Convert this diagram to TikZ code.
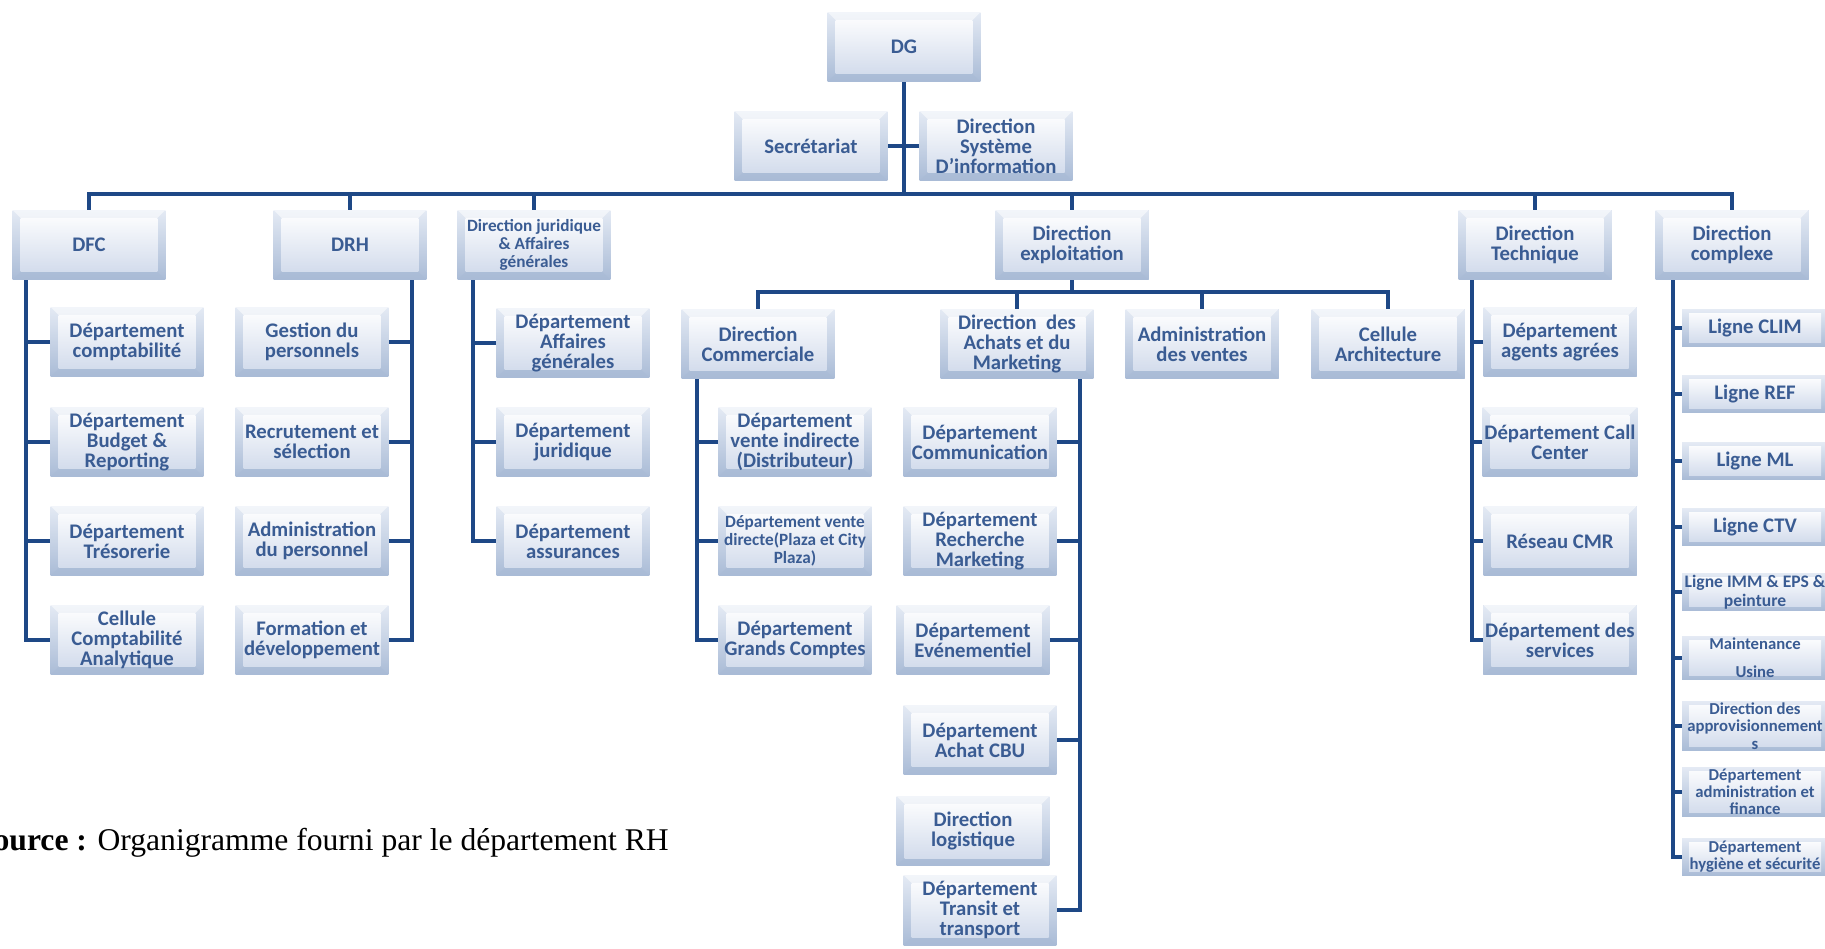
\documentclass[tikz,border=0pt]{standalone}
\usepackage{fontspec}
\setmainfont{Carlito}
\newfontfamily\srcfont{Liberation Serif}
\definecolor{ink}{HTML}{3A5C93}
\definecolor{wire}{HTML}{1E4886}
\definecolor{rimtop}{HTML}{E4EAF4}
\definecolor{rimbot}{HTML}{A9BBD6}
\definecolor{facetop}{HTML}{FAFBFD}
\definecolor{facebot}{HTML}{D3DCEC}
\tikzset{
  box/.style={
    rectangle, fill=facebot, inner sep=1pt, align=center, text=ink,
    minimum width=3.06cm, minimum height=1.4cm,
    font=\bfseries\fontsize{11.8}{11.4}\selectfont,
    path picture={
      \coordinate (pa) at (path picture bounding box.south west);
      \coordinate (pb) at (path picture bounding box.north east);
      \shade[top color=rimtop, bottom color=rimbot] (pa) rectangle (pb);
      \fill[white, opacity=0.55] (pa |- pb) -- (pb) -- ([shift={(-0.16cm,-0.16cm)}]pb) -- ([shift={(0.16cm,-0.16cm)}]pa |- pb) -- cycle;
      \fill[rimbot, opacity=0.6] (pa) -- (pa -| pb) -- ([shift={(-0.16cm,0.16cm)}]pa -| pb) -- ([shift={(0.16cm,0.16cm)}]pa) -- cycle;
      \shade[top color=facetop, bottom color=facebot] ([shift={(0.16cm,0.16cm)}]pa) rectangle ([shift={(-0.16cm,-0.16cm)}]pb);
    }
  },
  lbox/.style={box, minimum width=2.92cm, minimum height=0.74cm,
    path picture={
      \coordinate (pa) at (path picture bounding box.south west);
      \coordinate (pb) at (path picture bounding box.north east);
      \shade[top color=rimtop, bottom color=rimbot] (pa) rectangle (pb);
      \shade[top color=facetop, bottom color=facebot] ([shift={(0.14cm,0.08cm)}]pa) rectangle ([shift={(-0.14cm,-0.08cm)}]pb);
    }},
  wire/.style={draw=wire, line width=0.08cm},
  small/.style={font=\bfseries\fontsize{9.8}{10.2}\selectfont},
  tiny/.style={font=\bfseries\fontsize{9.5}{9.8}\selectfont}
}
\begin{document}
\begin{tikzpicture}[x=0.02cm, y=-0.02cm]
\useasboundingbox (0,0) rectangle (1825,949);
\clip (0,0) rectangle (1825,949);

% top of the chart
\node[box] (dg) at (904,47) {DG};
\node[box] (sec) at (811,146) {Secrétariat};
\node[box] (dsi) at (996,146) {Direction\\Système\\D’information};

% directions
\node[box] (dfc) at (89,245) {DFC};
\node[box] (drh) at (350,245) {DRH};
\node[box, small] (dj) at (534,245) {Direction juridique\\\& Affaires\\générales};
\node[box] (dex) at (1072,245) {Direction\\exploitation};
\node[box] (dt) at (1535,245) {Direction\\Technique};
\node[box] (dcx) at (1732,245) {Direction\\complexe};

% DFC
\node[box] (dfc1) at (127,342) {Département\\comptabilité};
\node[box] (dfc2) at (127,442) {Département\\Budget \&\\Reporting};
\node[box] (dfc3) at (127,541) {Département\\Trésorerie};
\node[box] (dfc4) at (127,640) {Cellule\\Comptabilité\\Analytique};

% DRH
\node[box] (drh1) at (312,342) {Gestion du\\personnels};
\node[box] (drh2) at (312,442) {Recrutement et\\sélection};
\node[box] (drh3) at (312,541) {Administration\\du personnel};
\node[box] (drh4) at (312,640) {Formation et\\développement};

% juridique
\node[box] (dj1) at (573,343) {Département\\Affaires\\générales};
\node[box] (dj2) at (573,442) {Département\\juridique};
\node[box] (dj3) at (573,541) {Département\\assurances};

% exploitation
\node[box] (dcom) at (758,344) {Direction\\Commerciale};
\node[box] (dach) at (1017,344) {Direction~~des\\Achats et du\\Marketing};
\node[box] (adv) at (1202,344) {Administration\\des ventes};
\node[box] (arch) at (1388,344) {Cellule\\Architecture};

% commerciale
\node[box] (dcom1) at (795,442) {Département\\vente indirecte\\(Distributeur)};
\node[box, small] (dcom2) at (795,541) {Département vente\\directe(Plaza et City\\Plaza)};
\node[box] (dcom3) at (795,640) {Département\\Grands Comptes};

% achats et marketing
\node[box] (dach1) at (980,442) {Département\\Communication};
\node[box] (dach2) at (980,541) {Département\\Recherche\\Marketing};
\node[box] (dach3) at (973,640) {Département\\Evénementiel};
\node[box] (dach4) at (980,740) {Département\\Achat CBU};
\node[box] (dach5) at (973,831) {Direction\\logistique};
\node[box] (dach6) at (980,910) {Département\\Transit et\\transport};

% technique
\node[box] (dt1) at (1560,342) {Département\\agents agrées};
\node[box] (dt2) at (1560,442) {Département Call\\Center};
\node[box] (dt3) at (1560,541) {Réseau CMR};
\node[box] (dt4) at (1560,640) {Département des\\services};

% complexe
\node[lbox] (dcx1) at (1755,328) {Ligne CLIM};
\node[lbox] (dcx2) at (1755,394) {Ligne REF};
\node[lbox] (dcx3) at (1755,461) {Ligne ML};
\node[lbox] (dcx4) at (1755,527) {Ligne CTV};
\node[lbox, font=\bfseries\fontsize{10}{11}\selectfont] (dcx5) at (1755,592) {Ligne IMM \& EPS \&\\peinture};
\node[lbox, tiny] (dcx6) at (1755,658) {Maintenance\\[6pt]Usine};
\node[lbox, tiny] (dcx7) at (1755,726) {Direction des\\approvisionnement\\s};
\node[lbox, tiny] (dcx8) at (1755,792) {Département\\administration et\\finance};
\node[lbox, tiny] (dcx9) at (1755,857) {Département\\hygiène et sécurité};

% main buses
\coordinate (bus) at (904,194);
\coordinate (sbus) at (1072,292);
\draw[wire] (dg) -- (bus);
\draw[wire] (sec) -- (dsi);
\draw[wire] (dfc.north) |- (bus) -| (dcx.north);
\foreach \n in {drh,dj,dex,dt} \draw[wire] (\n.north) -- (\n.north |- bus);
\draw[wire] (dex) -- (sbus);
\draw[wire] (dcom.north) |- (sbus) -| (arch.north);
\foreach \n in {dach,adv} \draw[wire] (\n.north) -- (\n.north |- sbus);

% side trunks
\coordinate (dfcx) at (26,0);
\coordinate (drhx) at (412,0);
\coordinate (djx) at (473,0);
\coordinate (dcomx) at (697,0);
\coordinate (dachx) at (1080,0);
\coordinate (dtx) at (1472,0);
\coordinate (dcxx) at (1673,0);

\draw[wire] (dfc.south -| dfcx) |- (dfc4);
\foreach \c in {dfc1,dfc2,dfc3} \draw[wire] (\c) -- (\c -| dfcx);
\draw[wire] (drh.south -| drhx) |- (drh4);
\foreach \c in {drh1,drh2,drh3} \draw[wire] (\c) -- (\c -| drhx);
\draw[wire] (dj.south -| djx) |- (dj3);
\foreach \c in {dj1,dj2} \draw[wire] (\c) -- (\c -| djx);
\draw[wire] (dcom.south -| dcomx) |- (dcom3);
\foreach \c in {dcom1,dcom2} \draw[wire] (\c) -- (\c -| dcomx);
\draw[wire] (dach.south -| dachx) |- (dach6);
\foreach \c in {dach1,dach2,dach3,dach4} \draw[wire] (\c) -- (\c -| dachx);
\draw[wire] (dt.south -| dtx) |- (dt4);
\foreach \c in {dt1,dt2,dt3} \draw[wire] (\c) -- (\c -| dtx);
\draw[wire] (dcx.south -| dcxx) |- (dcx9);
\foreach \c in {dcx1,dcx2,dcx3,dcx4,dcx5,dcx6,dcx7,dcx8} \draw[wire] (\c) -- (\c -| dcxx);

% source line
\node[anchor=base east, inner sep=0pt, text=black, font=\srcfont\fontsize{18}{20}\selectfont] (src) at (669,850) {\textbf{Source :} Organigramme fourni par le département RH};
\end{tikzpicture}
\end{document}
